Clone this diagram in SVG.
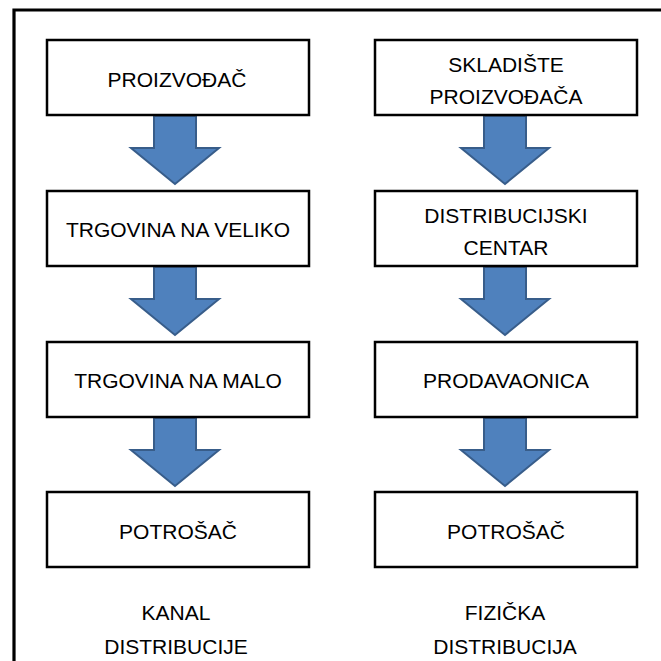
<svg xmlns="http://www.w3.org/2000/svg" width="661" height="661" viewBox="0 0 661 661">
<style>
.box{fill:#fff;stroke:#000;stroke-width:2.5}
.arr{fill:#4f81bd;stroke:#385d8a;stroke-width:2;stroke-linejoin:miter}
.t{font-family:"Liberation Sans",Arial,sans-serif;font-size:21px;fill:#000;text-anchor:middle}
.frame{stroke:#000;stroke-width:3.2;fill:none}
</style>
<defs>
<path id="arrow" class="arr" d="M-21,0 H21 V32 H44 L0,68 L-44,32 H-21 Z"/>
</defs>
<rect width="661" height="661" fill="#fff"/>
<path class="frame" d="M14,661 V10 H661"/>
<g id="connectors">
<use href="#arrow" x="175" y="116"/>
<use href="#arrow" x="175" y="267"/>
<use href="#arrow" x="175" y="418"/>
<use href="#arrow" x="505" y="116"/>
<use href="#arrow" x="505" y="267"/>
<use href="#arrow" x="505" y="418"/>
</g>
<g id="proizvodac"><rect class="box" x="47" y="40" width="262" height="75"/><text class="t" x="177" y="87">PROIZVOĐAČ</text></g>
<g id="trgovina-veliko"><rect class="box" x="47" y="191" width="262" height="75"/><text class="t" x="178" y="237">TRGOVINA NA VELIKO</text></g>
<g id="trgovina-malo"><rect class="box" x="47" y="342" width="262" height="75"/><text class="t" x="178" y="388">TRGOVINA NA MALO</text></g>
<g id="potrosac-1"><rect class="box" x="47" y="492" width="262" height="75"/><text class="t" x="178" y="539">POTROŠAČ</text></g>
<g id="skladiste"><rect class="box" x="375" y="40" width="262" height="75"/><text class="t" x="506" y="72">SKLADIŠTE</text><text class="t" x="506" y="104">PROIZVOĐAČA</text></g>
<g id="distribucijski-centar"><rect class="box" x="375" y="191" width="262" height="75"/><text class="t" x="506" y="223">DISTRIBUCIJSKI</text><text class="t" x="506" y="255">CENTAR</text></g>
<g id="prodavaonica"><rect class="box" x="375" y="342" width="262" height="75"/><text class="t" x="506" y="388">PRODAVAONICA</text></g>
<g id="potrosac-2"><rect class="box" x="375" y="492" width="262" height="75"/><text class="t" x="506" y="539">POTROŠAČ</text></g>
<g id="label-kanal"><text class="t" x="176" y="620">KANAL</text><text class="t" x="176" y="654">DISTRIBUCIJE</text></g>
<g id="label-fizicka"><text class="t" x="505" y="620">FIZIČKA</text><text class="t" x="505" y="654">DISTRIBUCIJA</text></g>
</svg>
